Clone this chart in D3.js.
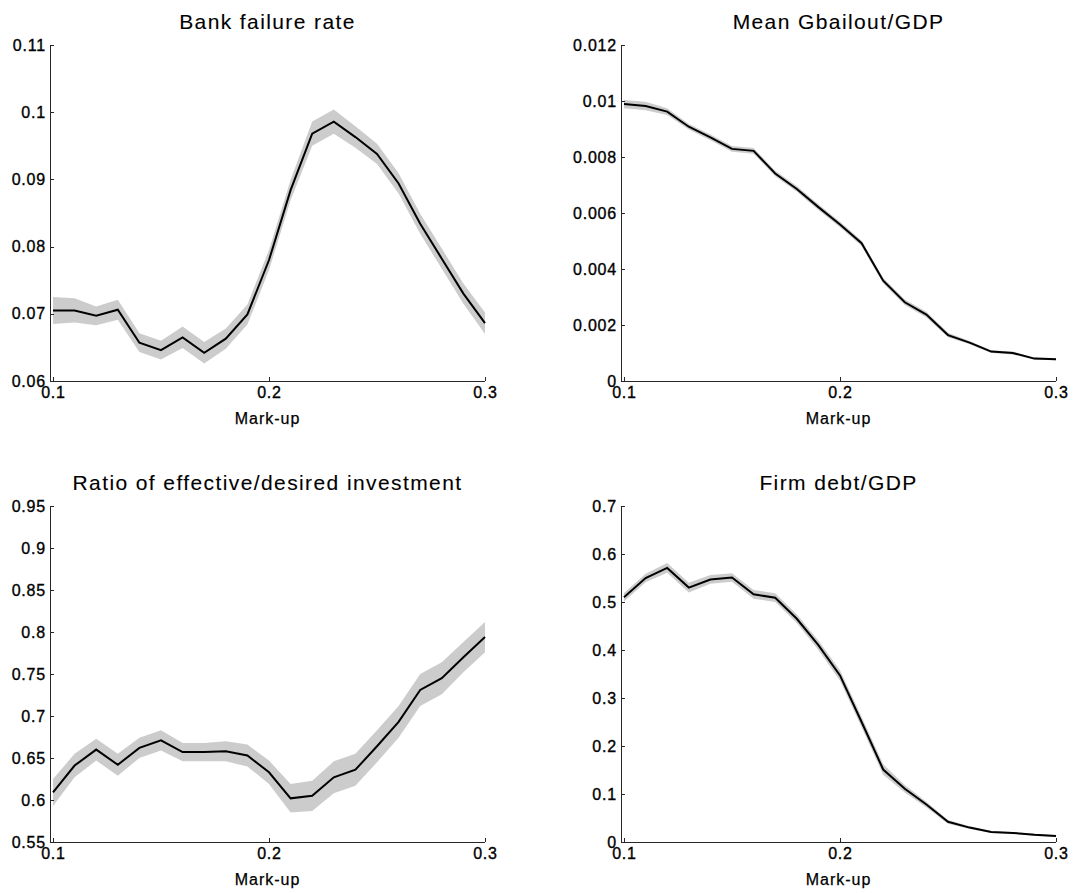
<!DOCTYPE html>
<html>
<head>
<meta charset="utf-8">
<script src="https://cdn.jsdelivr.net/npm/d3@7"></script>
<style>
    body { margin: 0; background: #fff; }
    svg { display: block; }
    .axis path, .axis line { stroke: #262626; stroke-width: 1; shape-rendering: crispEdges; }
    .axis text { font-family: "Liberation Sans", Arial, sans-serif; font-size: 16px; fill: #000; stroke: #000; stroke-width: 0.35px; letter-spacing: 0.8px; }
    .title { font-family: "Liberation Sans", Arial, sans-serif; font-size: 21px; letter-spacing: 1.4px; fill: #000; stroke: #000; stroke-width: 0.1px; }
    .ax { font-family: "Liberation Sans", Arial, sans-serif; font-size: 16px; letter-spacing: 1px; fill: #000; stroke: #000; stroke-width: 0.25px; }
</style>
</head>
<body>
<div id="chart"></div>
<script>

// mark-up values on the x axis
var markup = [0.10, 0.11, 0.12, 0.13, 0.14, 0.15, 0.16, 0.17, 0.18, 0.19, 0.20,
              0.21, 0.22, 0.23, 0.24, 0.25, 0.26, 0.27, 0.28, 0.29, 0.30];
var xTicks = [0.1, 0.2, 0.3];

// bank failure rate (mean and half width of the grey band)
var bankFailure = [0.0705, 0.0705, 0.0697, 0.0706, 0.0657, 0.0646, 0.0665, 0.0642, 0.0663, 0.0699, 0.0780,
                   0.0884, 0.0968, 0.0986, 0.0963, 0.0938, 0.0894, 0.0834, 0.0782, 0.0730, 0.0686];
var bankFailureErr = [0.0020, 0.0018, 0.0014, 0.0015, 0.0014, 0.0014, 0.0016, 0.0016, 0.0015, 0.0015, 0.0015,
                      0.0015, 0.0018, 0.0018, 0.0016, 0.0015, 0.0015, 0.0015, 0.0015, 0.0015, 0.0016];
var bankTicks = [0.06, 0.07, 0.08, 0.09, 0.1, 0.11];

// mean Gbailout / GDP
var gbailout = [0.00989, 0.00982, 0.00962, 0.00908, 0.00870, 0.00829, 0.00822, 0.00741, 0.00686, 0.00621, 0.00559,
                0.00492, 0.00358, 0.00281, 0.00237, 0.00164, 0.00137, 0.00105, 0.00100, 0.00080, 0.00078];
var gbailoutErr = [0.00015, 0.00015, 0.00012, 0.00010, 0.00010, 0.00010, 0.00010, 0.00010, 0.00010, 0.00010, 0.00010,
                   0.00010, 0.00010, 0.00010, 0.00010, 0.00008, 0.00006, 0.00005, 0.00005, 0.00004, 0.00004];
var gbailoutTicks = [0, 0.002, 0.004, 0.006, 0.008, 0.01, 0.012];

// ratio of effective / desired investment
var investRatio = [0.609, 0.641, 0.660, 0.642, 0.662, 0.671, 0.657, 0.657, 0.658, 0.653, 0.633,
                   0.602, 0.605, 0.627, 0.636, 0.664, 0.693, 0.731, 0.745, 0.770, 0.794];
var investRatioErr = [0.016, 0.014, 0.013, 0.013, 0.012, 0.012, 0.011, 0.011, 0.012, 0.013, 0.014,
                      0.017, 0.018, 0.019, 0.019, 0.019, 0.019, 0.019, 0.019, 0.018, 0.018];
var investTicks = [0.55, 0.6, 0.65, 0.7, 0.75, 0.8, 0.85, 0.9, 0.95];

// firm debt / GDP
var firmDebt = [0.510, 0.550, 0.571, 0.530, 0.547, 0.551, 0.516, 0.509, 0.465, 0.410, 0.347,
                0.250, 0.151, 0.111, 0.078, 0.042, 0.030, 0.021, 0.019, 0.015, 0.0125];
var firmDebtErr = [0.009, 0.009, 0.010, 0.010, 0.009, 0.009, 0.009, 0.009, 0.009, 0.010, 0.011,
                   0.011, 0.011, 0.008, 0.006, 0.004, 0.003, 0.002, 0.002, 0.002, 0.002];
var debtTicks = [0, 0.1, 0.2, 0.3, 0.4, 0.5, 0.6, 0.7];

var panels = [
    { title: "Bank failure rate", values: bankFailure, err: bankFailureErr, ticks: bankTicks,
      domain: [0.06, 0.11], left: 50, top: 45 },
    { title: "Mean Gbailout/GDP", values: gbailout, err: gbailoutErr, ticks: gbailoutTicks,
      domain: [0, 0.012], left: 621, top: 45 },
    { title: "Ratio of effective/desired investment", values: investRatio, err: investRatioErr, ticks: investTicks,
      domain: [0.55, 0.95], left: 50, top: 506 },
    { title: "Firm debt/GDP", values: firmDebt, err: firmDebtErr, ticks: debtTicks,
      domain: [0, 0.7], left: 621, top: 506 }
];

var width = 1075;
var height = 893;
var plotW = 435;   // from y axis line to x = 0.3
var plotH = 336;
var gap = 3;       // x = 0.1 sits a little right of the y axis line

var svg = d3.select("#chart")
    .append("svg")
    .attr("width", width)
    .attr("height", height);

panels.forEach(function(p) {

    var g = svg.append("g");

    var xScale = d3.scaleLinear()
        .domain([0.1, 0.3])
        .range([p.left + gap, p.left + plotW]);

    var yScale = d3.scaleLinear()
        .domain(p.domain)
        .range([p.top + plotH, p.top]);

    var rows = markup.map(function(m, i) {
        return { x: m, y: p.values[i], e: p.err[i] };
    });

    /*
    GREY BAND
    */
    g.append("path")
        .datum(rows)
        .attr("fill", "#cccccc")
        .attr("stroke", "none")
        .attr("d", d3.area()
            .x(function(d) { return xScale(d.x); })
            .y0(function(d) { return yScale(d.y - d.e); })
            .y1(function(d) { return yScale(d.y + d.e); }));

    /*
    MEAN LINE
    */
    g.append("path")
        .datum(rows)
        .attr("fill", "none")
        .attr("stroke", "#000")
        .attr("stroke-width", 2)
        .attr("d", d3.line()
            .x(function(d) { return xScale(d.x); })
            .y(function(d) { return yScale(d.y); }));

    /*
    AXES
    */
    var xAxis = g.append("g")
        .attr("class", "axis")
        .attr("transform", `translate(0, ${p.top + plotH})`)
        .call(d3.axisBottom(xScale).tickValues(xTicks).tickFormat(d3.format("~g"))
            .tickSizeInner(-4).tickSizeOuter(0).tickPadding(6));
    xAxis.select(".domain").remove();
    xAxis.append("line")
        .attr("x1", p.left)
        .attr("x2", xScale(0.3))
        .attr("y1", 0.5)
        .attr("y2", 0.5);

    g.append("g")
        .attr("class", "axis")
        .attr("transform", `translate(${p.left},0)`)
        .call(d3.axisLeft(yScale).tickValues(p.ticks).tickFormat(d3.format("~g"))
            .tickSizeInner(-4).tickSizeOuter(0).tickPadding(4));

    /*
    TITLE AND LABEL
    */
    g.append("text")
        .attr("class", "title")
        .attr("x", p.left + plotW / 2)
        .attr("y", p.top - 16)
        .attr("text-anchor", "middle")
        .text(p.title);

    g.append("text")
        .attr("class", "ax")
        .attr("x", p.left + plotW / 2)
        .attr("y", p.top + plotH + 43)
        .attr("text-anchor", "middle")
        .text("Mark-up");
});

</script>
</body>
</html>
